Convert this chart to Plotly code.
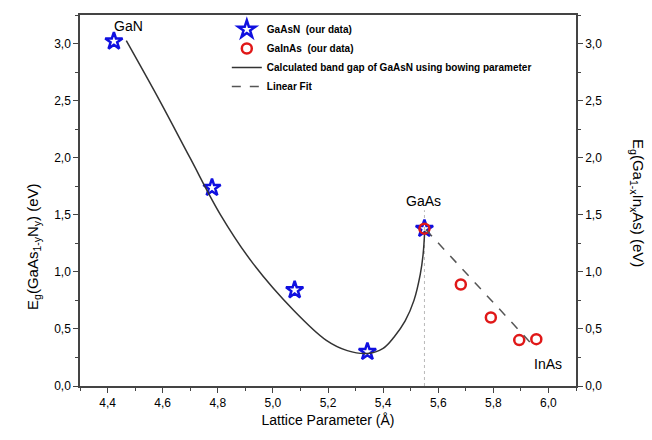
import plotly.graph_objects as go

# GaAsN data (stars)
gaasn_a = [4.423, 4.779, 5.079, 5.343, 5.550]
gaasn_eg = [3.02, 1.737, 0.84, 0.30, 1.378]

# GaInAs data (circles)
gainas_a = [5.550, 5.682, 5.791, 5.894, 5.956]
gainas_eg = [1.378, 0.889, 0.60, 0.402, 0.41]

# Calculated band gap curve
calc_a = [4.468, 4.589, 4.699, 4.81, 4.929, 5.075, 5.194, 5.27, 5.342, 5.40, 5.44, 5.48, 5.512, 5.535, 5.545, 5.551]
calc_eg = [3.025, 2.50, 2.00, 1.50, 1.07, 0.664, 0.40, 0.31, 0.285, 0.33, 0.43, 0.57, 0.75, 0.98, 1.15, 1.36]

# Linear fit
fit_a = [5.555, 5.95]
fit_eg = [1.37, 0.34]

# Vertical drop line at GaAs
drop_a = [5.55, 5.55]
drop_eg = [0.0, 1.54]

labels = [("GaN", 4.475, 3.15), ("GaAs", 5.545, 1.62), ("InAs", 6.0, 0.19)]

FONT = "Liberation Sans, Arial, sans-serif"

fig = go.Figure()
fig.add_trace(go.Scatter(x=drop_a, y=drop_eg, mode="lines", showlegend=False,
                         line=dict(color="#b8b8b8", width=1, dash="dot"), hoverinfo="skip"))
fig.add_trace(go.Scatter(x=gaasn_a, y=gaasn_eg, mode="markers", name="<b>GaAsN  (our data)</b>",
                         marker=dict(symbol="star-open", size=13, color="#1010e0", line=dict(width=2.5, color="#1010e0"))))
fig.add_trace(go.Scatter(x=gainas_a, y=gainas_eg, mode="markers", name="<b>GaInAs  (our data)</b>", yaxis="y2",
                         marker=dict(symbol="circle-open", size=10, color="#e01818", line=dict(width=2.5, color="#e01818"))))
fig.add_trace(go.Scatter(x=calc_a, y=calc_eg, mode="lines", name="<b>Calculated band gap of GaAsN using bowing parameter</b>",
                         line=dict(color="#333333", width=1.5, shape="spline", smoothing=1.0)))
fig.add_trace(go.Scatter(x=fit_a, y=fit_eg, mode="lines", name="<b>Linear Fit</b>", yaxis="y2",
                         line=dict(color="#555555", width=1.5, dash="dash")))

for txt, x, y in labels:
    fig.add_annotation(x=x, y=y, text=txt, showarrow=False, font=dict(size=14, color="black", family=FONT))

fig.add_annotation(xref="paper", yref="paper", x=-0.118, y=(386 - 246) / 371, text="E<sub>g</sub>(GaAs<sub>1-y</sub>N<sub>y</sub>) (eV)",
                   textangle=-90, showarrow=False, font=dict(size=15, color="black", family=FONT))
fig.add_annotation(xref="paper", yref="paper", x=1.146, y=(386 - 203) / 371, text="E<sub>g</sub>(Ga<sub>1-x</sub>In<sub>x</sub>As) (eV)",
                   textangle=90, showarrow=False, font=dict(size=15, color="black", family=FONT))

axis_common = dict(showgrid=False, zeroline=False, showline=True, linecolor="#444444", linewidth=1.5,
                   ticks="outside", ticklen=5, tickwidth=1, tickcolor="#444444",
                   tickfont=dict(size=12, color="black", family=FONT))

fig.update_layout(
    width=652, height=440,
    margin=dict(l=80, r=76, t=15, b=54),
    paper_bgcolor="white", plot_bgcolor="white",
    separators=",.",
    font=dict(family=FONT, color="black"),
    xaxis=dict(range=[4.3, 6.1], dtick=0.2, tick0=4.4, tickformat=".1f", mirror=True,
               title=dict(text="Lattice Parameter (Å)", font=dict(size=14), standoff=6),
               minor=dict(ticks="outside", dtick=0.1, tick0=4.3, ticklen=3, tickcolor="#444444"),
               **axis_common),
    yaxis=dict(range=[0, 3.25], dtick=0.5, tickformat=".1f",
               minor=dict(ticks="outside", dtick=0.25, ticklen=3, tickcolor="#444444"),
               **axis_common),
    yaxis2=dict(range=[0, 3.25], dtick=0.5, tickformat=".1f", overlaying="y", side="right",
                minor=dict(ticks="outside", dtick=0.25, ticklen=3, tickcolor="#444444"),
                **axis_common),
    legend=dict(x=0.296, y=1.0, xanchor="left", yanchor="top", bgcolor="rgba(0,0,0,0)",
                font=dict(size=10, color="black", family=FONT), tracegroupgap=0, itemwidth=30),
)

fig.write_html("out.html")
